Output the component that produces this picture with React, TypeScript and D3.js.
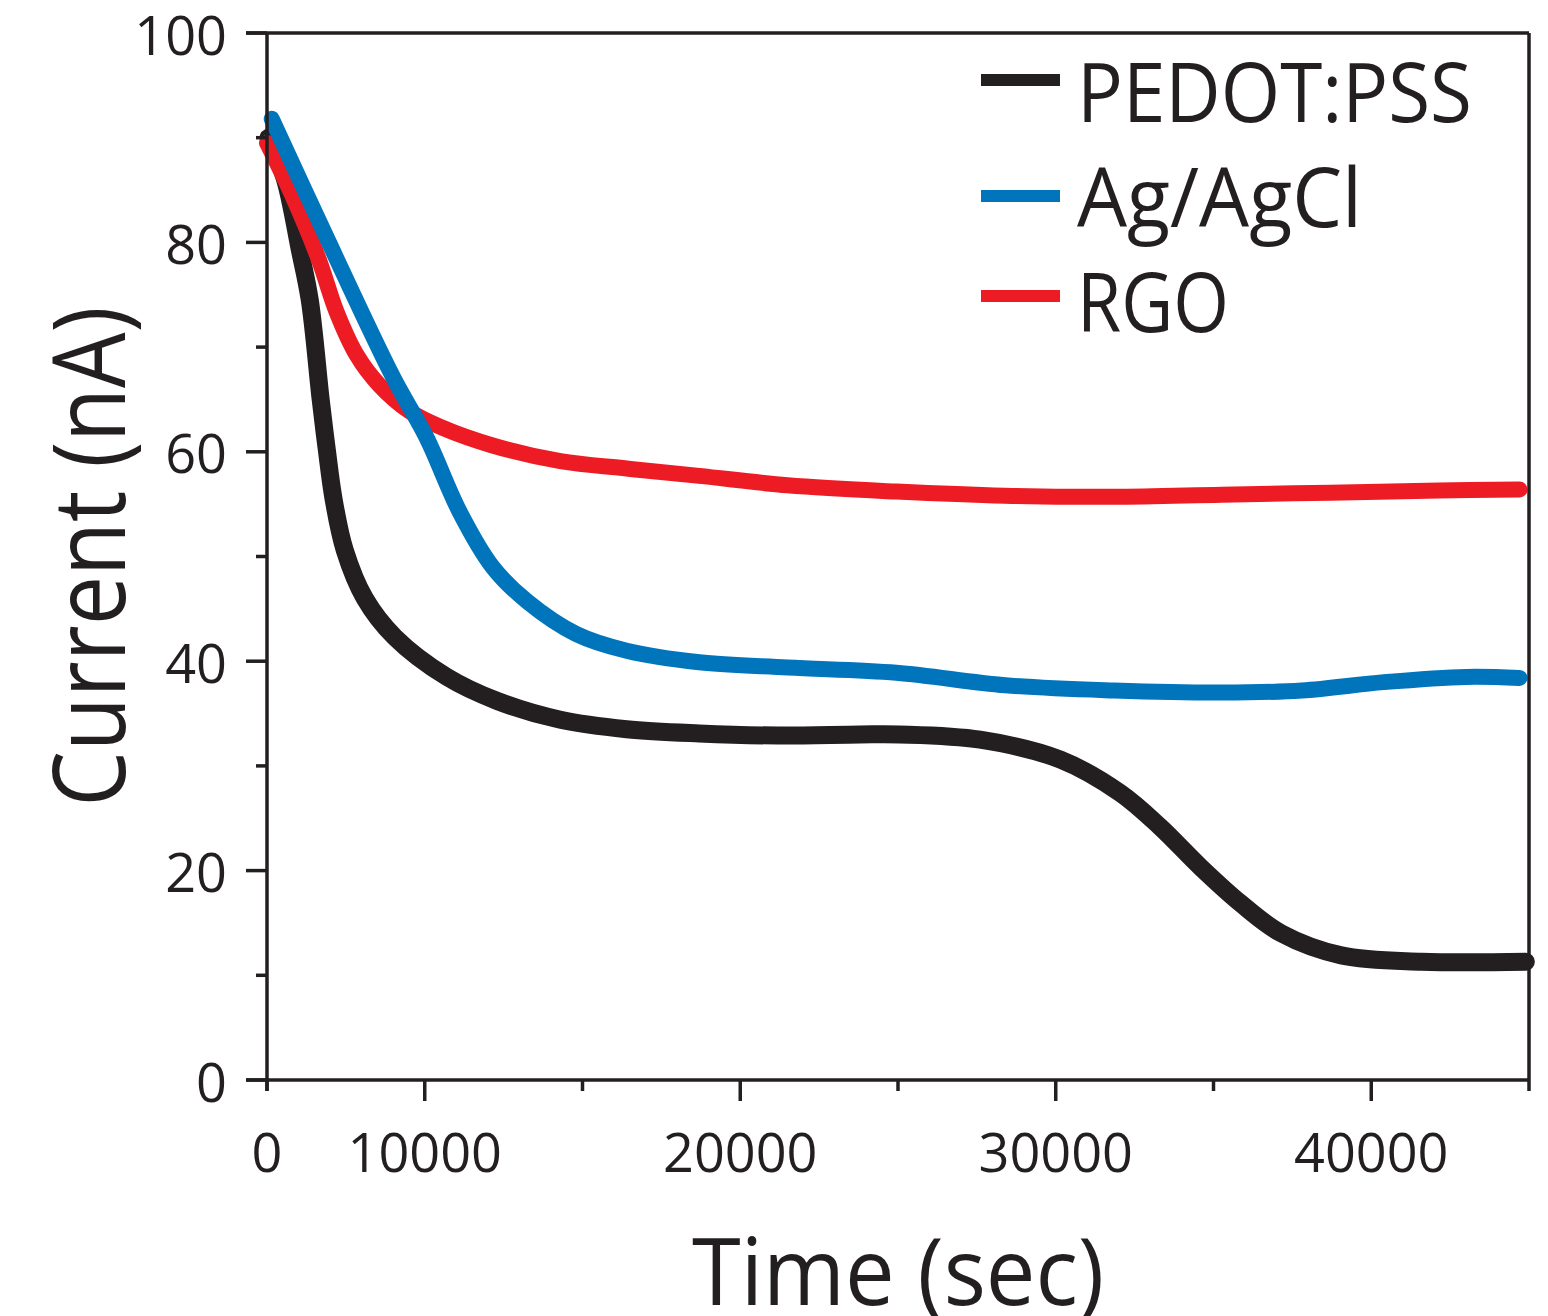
import React from 'react';
import * as d3 from 'd3';

// values (time axis starts at 5000 in figure units, labelled "0")
const pedotTime = [5050, 5565, 6040, 6355, 6705, 6895, 7115, 7465, 8100, 9050, 10700, 12300, 14300, 16400, 18700, 21200, 23800, 25050, 27600, 30150, 32050, 33300, 34600, 35850, 37150, 39050, 41600, 44900];
const pedot = [90.0, 86.1, 79.3, 74.5, 64.9, 60.2, 55.4, 50.6, 46.0, 42.3, 38.5, 36.2, 34.4, 33.5, 33.1, 32.9, 33.0, 33.0, 32.5, 30.6, 27.4, 24.2, 20.3, 16.9, 14.0, 11.9, 11.3, 11.3];

const agTime = [5150, 6900, 9000, 10050, 11100, 12150, 13250, 14800, 16400, 18700, 21500, 24950, 28400, 31850, 35250, 37800, 40400, 43000, 44700];
const ag = [91.8, 80.4, 67.1, 61.4, 54.3, 49.0, 45.7, 42.6, 41.0, 39.9, 39.4, 38.9, 37.7, 37.2, 37.0, 37.2, 38.0, 38.5, 38.4];

const rgoTime = [5000, 5800, 6650, 7200, 7850, 8550, 9500, 10550, 12150, 14300, 16400, 18700, 21500, 24950, 28400, 31850, 35250, 38700, 42150, 44700];
const rgo = [89.5, 84.5, 78.3, 73.4, 69.2, 66.4, 63.9, 62.3, 60.6, 59.1, 58.4, 57.7, 56.8, 56.2, 55.8, 55.7, 55.9, 56.1, 56.3, 56.4];

const seriesNames = ['PEDOT:PSS', 'Ag/AgCl', 'RGO'];
const xTicks = [5000, 10000, 15000, 20000, 25000, 30000, 35000, 40000, 45000];
const xTickLabels = ['0', '10000', '', '20000', '', '30000', '', '40000', ''];
const yTicks = [0, 10, 20, 30, 40, 50, 60, 70, 80, 90, 100];
const yTickLabels = ['0', '', '20', '', '40', '', '60', '', '80', '', '100'];

const ink = '#231f20';
const font = '"Open Sans", "Noto Sans", sans-serif';

const App = () => {
  const left = 267, right = 1529, top = 33, bottom = 1080;

  const x = d3.scaleLinear().domain([5000, 45000]).range([left, right]);
  const y = d3.scaleLinear().domain([0, 100]).range([bottom, top]);

  const line = d3.line<[number, number]>()
    .x(d => x(d[0]))
    .y(d => y(d[1]))
    .curve(d3.curveCatmullRom.alpha(0.5));

  const series = [
    { name: seriesNames[0], pts: pedotTime.map((t, i) => [t, pedot[i]] as [number, number]), color: ink, width: 18 },
    { name: seriesNames[1], pts: agTime.map((t, i) => [t, ag[i]] as [number, number]), color: '#0075bc', width: 16 },
    { name: seriesNames[2], pts: rgoTime.map((t, i) => [t, rgo[i]] as [number, number]), color: '#ed1c24', width: 16 },
  ];
  // draw order: black, red, blue on top
  const drawOrder = [series[0], series[2], series[1]];

  const legendRows = [
    { lineY: 80, baseline: 122, textLen: 395 },
    { lineY: 196, baseline: 227, textLen: 285 },
    { lineY: 296, baseline: 332, textLen: 152 },
  ];

  return (
    <svg width={1548} height={1316} style={{ position: 'absolute', left: 0, top: 0, background: '#fff' }}>
      {drawOrder.map(s => (
        <path key={s.name} d={line(s.pts) || ''} fill="none" stroke={s.color}
          strokeWidth={s.width} strokeLinecap="round" strokeLinejoin="round" />
      ))}

      {/* frame */}
      <g stroke={ink} strokeWidth={3.5} fill="none">
        <line x1={left - 21} x2={right} y1={top} y2={top} />
        <line x1={right} x2={right} y1={top} y2={bottom} />
        <line x1={left} x2={left} y1={top} y2={bottom + 11} />
        <line x1={left - 21} x2={right} y1={bottom} y2={bottom} />
      </g>

      {/* y axis */}
      {yTicks.map((t, i) => (
        <g key={'y' + t}>
          <line x1={left - (yTickLabels[i] ? 21 : 11)} x2={left} y1={y(t)} y2={y(t)} stroke={ink} strokeWidth={3.5} />
          {yTickLabels[i] && (
            <text x={227} y={y(t)} dy="0.4em" textAnchor="end" fontFamily={font} fontSize={54} fill={ink}>
              {yTickLabels[i]}
            </text>
          )}
        </g>
      ))}

      {/* x axis */}
      {xTicks.map((t, i) => (
        <g key={'x' + t}>
          <line x1={x(t)} x2={x(t)} y1={bottom} y2={bottom + (t % 10000 === 0 ? 21 : 11)} stroke={ink} strokeWidth={3.5} />
          {xTickLabels[i] && (
            <text x={x(t)} y={1172} textAnchor="middle" fontFamily={font} fontSize={54} fill={ink}>
              {xTickLabels[i]}
            </text>
          )}
        </g>
      ))}

      {/* axis titles */}
      <text x={(left + right) / 2} y={1305} textAnchor="middle" fontFamily={font} fontSize={94} fill={ink}
        textLength={412} lengthAdjust="spacingAndGlyphs">Time (sec)</text>
      <text transform={`translate(125,${(top + bottom) / 2}) rotate(-90)`} textAnchor="middle" fontFamily={font}
        fontSize={100} fill={ink} textLength={500} lengthAdjust="spacingAndGlyphs">Current (nA)</text>

      {/* legend */}
      {series.map((s, i) => (
        <g key={'lg' + s.name}>
          <line x1={981} x2={1060} y1={legendRows[i].lineY} y2={legendRows[i].lineY} stroke={s.color} strokeWidth={12} />
          <text x={1077} y={legendRows[i].baseline} fontFamily={font} fontSize={82} fill={ink}
            textLength={legendRows[i].textLen} lengthAdjust="spacingAndGlyphs">{s.name}</text>
        </g>
      ))}
    </svg>
  );
};

export default App;
